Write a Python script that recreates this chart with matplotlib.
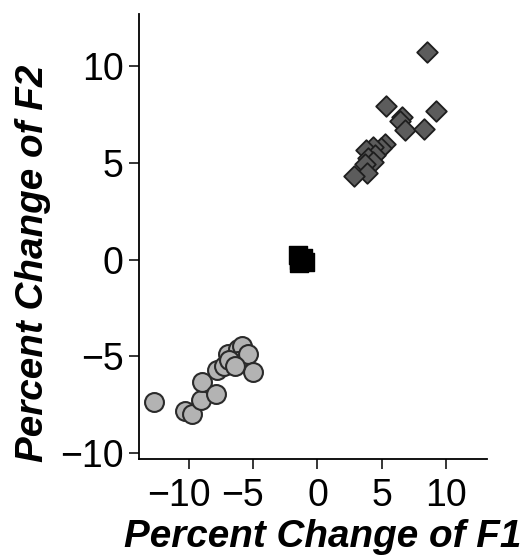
import matplotlib
matplotlib.use("Agg")
import matplotlib.pyplot as plt
from matplotlib.transforms import ScaledTranslation

plt.rcParams['font.family'] = ['Liberation Sans', 'DejaVu Sans']

circle_x = [-12.7, -10.3, -9.8, -9.1, -9.0, -7.9, -7.8, -7.3, -7.0, -6.5, -6.2, -5.9, -6.2, -5.4, -5.0, -6.9, -6.4]
circle_y = [-7.35, -7.8, -8.0, -7.25, -6.3, -6.95, -5.7, -5.5, -4.85, -5.1, -4.6, -4.45, -5.25, -4.85, -5.8, -5.2, -5.5]

diamond_x = [8.5, 5.3, 9.2, 6.6, 6.45, 6.8, 8.3, 5.25, 4.95, 4.3, 3.8, 4.45, 3.9, 4.3, 3.7, 3.85, 2.85]
diamond_y = [10.75, 7.95, 7.7, 7.35, 7.15, 6.7, 6.75, 6.0, 5.75, 5.8, 5.65, 5.4, 5.25, 5.05, 4.95, 4.5, 4.3]

square_x = [-1.55, -1.45, -1.1, -1.0, -1.4, -1.2]
square_y = [0.25, 0.0, 0.1, -0.1, -0.15, 0.05]

xticks = [-10, -5, 0, 5, 10]
yticks = [-10, -5, 0, 5, 10]
tick_labels = ['\u221210', '\u22125', '0', '5', '10']

fig = plt.figure(figsize=(5.3, 5.57), dpi=100)
ax = fig.add_axes([0.262, 0.176, 0.657, 0.799])

ax.scatter(circle_x, circle_y, s=185, marker='o', facecolor='#b3b3b3', edgecolor='#2a2a2a', linewidth=1.5, zorder=3)
ax.scatter(diamond_x, diamond_y, s=110, marker='D', facecolor='#5c5c5c', edgecolor='#1e1e1e', linewidth=1.3, zorder=3)
ax.scatter(square_x, square_y, s=160, marker='s', facecolor='black', edgecolor='black', linewidth=1, zorder=3)

ax.set_xlim(-13.9, 13.2)
ax.set_ylim(-10.3, 12.7)
ax.set_xticks(xticks)
ax.set_yticks(yticks)
ax.set_xticklabels(tick_labels)
ax.set_yticklabels(tick_labels)

for s in ['top', 'right']:
    ax.spines[s].set_visible(False)
for s in ['left', 'bottom']:
    ax.spines[s].set_linewidth(1.3)
    ax.spines[s].set_color('black')

ax.tick_params(axis='both', labelsize=27, length=7, width=1.1, pad=4)
ax.tick_params(axis='x', pad=7)

# negative x tick labels: digits centred on the tick, minus sign hanging left
shift = ScaledTranslation(-0.105, 0, fig.dpi_scale_trans)
for lab in ax.get_xticklabels():
    if lab.get_text().startswith('\u2212'):
        lab.set_transform(lab.get_transform() + shift)

ax.set_xlabel('Percent Change of F1', fontsize=27.8, fontweight='bold', fontstyle='italic')
ax.set_ylabel('Percent Change of F2', fontsize=27.8, fontweight='bold', fontstyle='italic')
ax.xaxis.label.set_va('baseline')
ax.xaxis.set_label_coords(0.528, -0.198)
ax.yaxis.label.set_rotation_mode('anchor')
ax.yaxis.label.set_va('baseline')
ax.yaxis.set_label_coords(-0.276, 0.44)

fig.savefig('out.png', dpi=100)
